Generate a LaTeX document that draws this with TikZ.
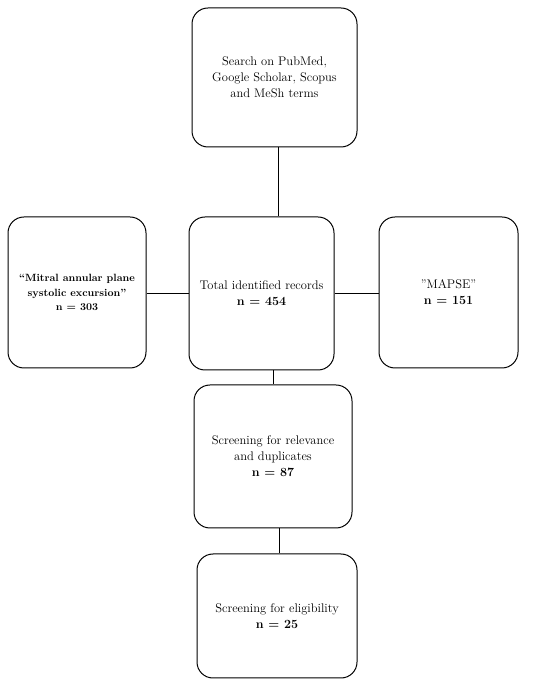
\documentclass[tikz,border=0pt]{standalone}
\usepackage{tikz}
\usetikzlibrary{positioning,calc}

\begin{document}
\begin{tikzpicture}[x=1pt, y=1pt, every node/.style={font=\fontsize{12.5}{16}\selectfont}]
  \tikzset{
    stage/.style={draw, line width=1pt, rounded corners=16pt, align=center, inner sep=2pt},
    link/.style={line width=1pt}
  }
  \useasboundingbox (0,0) rectangle (550,685);

  % search sources and keyword branches
  \node[stage, minimum width=165pt, minimum height=139pt] (search) at (274.5,607.5)
    {Search on PubMed,\\Google Scholar, Scopus\\and MeSh terms};
  \node[stage, minimum width=145pt, minimum height=153pt] (total) at (261.5,391.5)
    {Total identified records\\\textbf{n = 454}};
  \node[stage, minimum width=138pt, minimum height=151pt, font=\fontsize{10.5}{14.5}\selectfont\bfseries] (mitral) at (77,392.5)
    {“Mitral annular plane\\systolic excursion”\\n = 303};
  \node[stage, minimum width=139pt, minimum height=151pt] (mapse) at (448.5,392.5)
    {"MAPSE"\\\textbf{n = 151}};

  % screening steps
  \node[stage, minimum width=158pt, minimum height=143pt] (screen) at (273,228.5)
    {Screening for relevance\\and duplicates\\\textbf{n = 87}};
  \node[stage, minimum width=160pt, minimum height=124pt] (elig) at (277,69)
    {Screening for eligibility\\\textbf{n = 25}};

  \draw[link] ($(search.south)+(3.5,0)$) coordinate (s1) -- (s1 |- total.north);
  \draw[link] (mitral.east |- total.west) -- (total.west);
  \draw[link] (total.east) -- (mapse.west |- total.east);
  \draw[link] (total.south -| screen.north) -- (screen.north);
  \draw[link] ($(screen.south)+(6,0)$) coordinate (s2) -- (s2 |- elig.north);
\end{tikzpicture}
\end{document}
